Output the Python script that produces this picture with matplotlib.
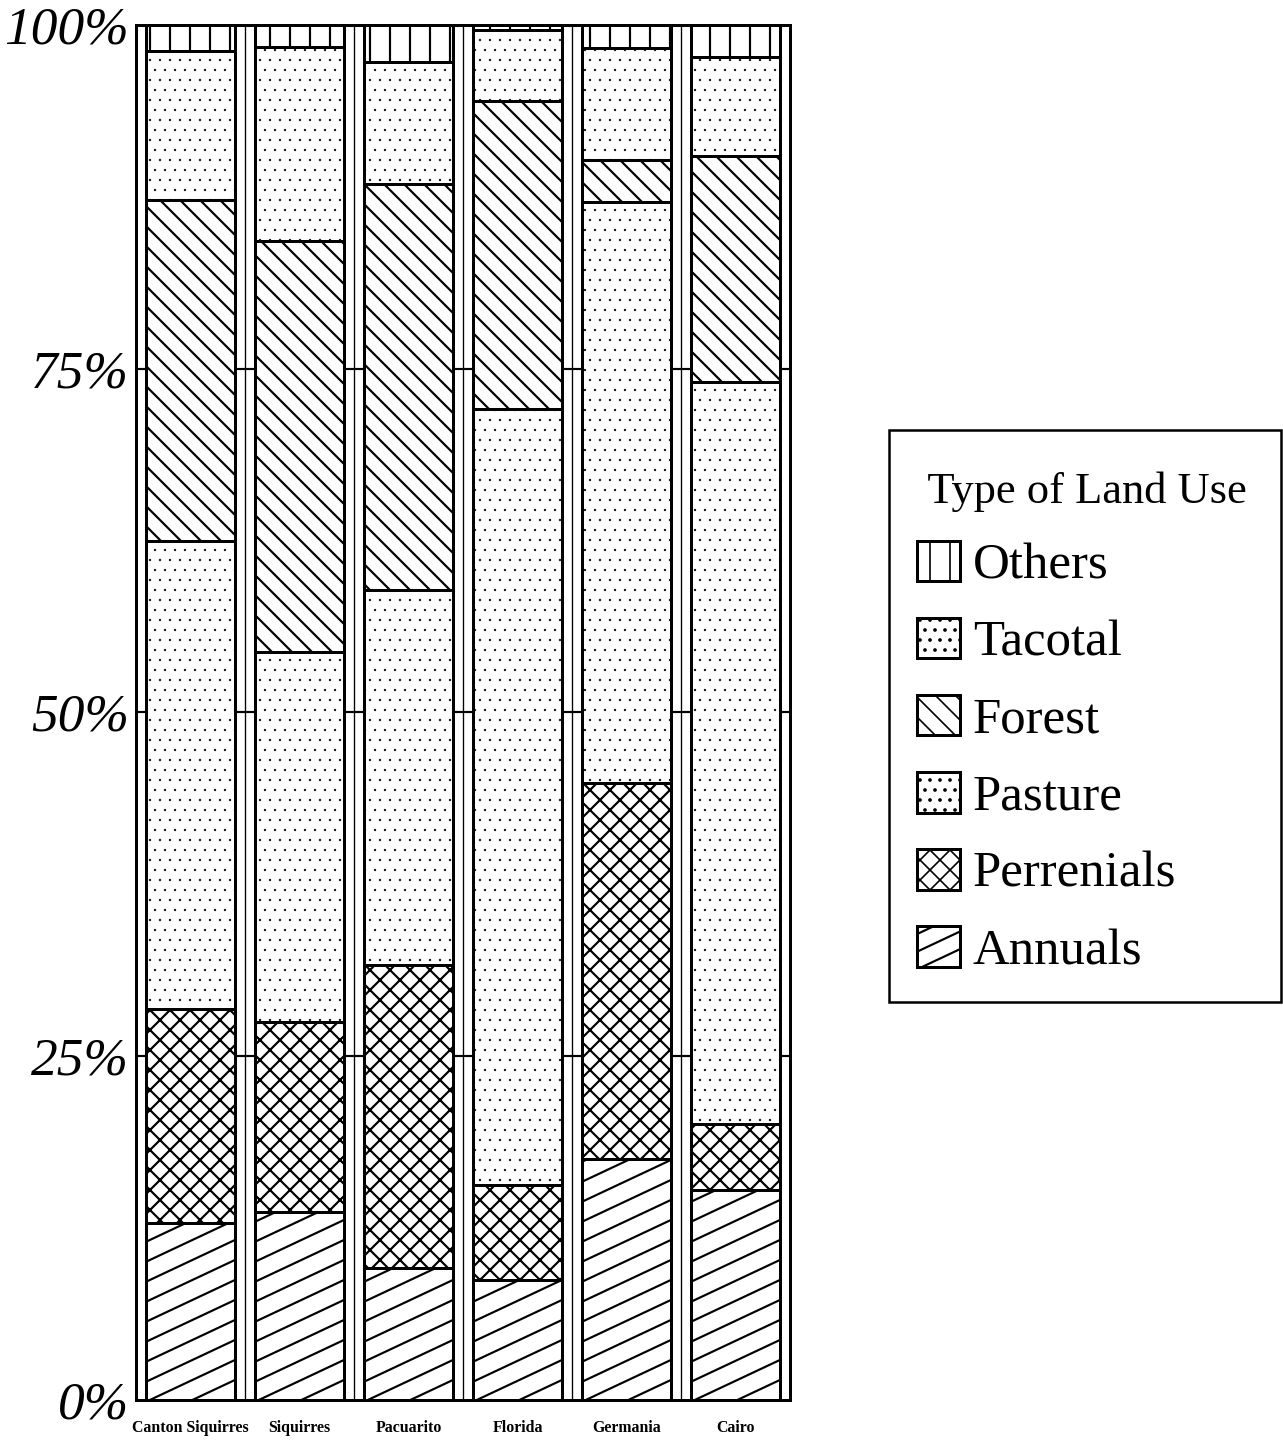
import numpy as np
import matplotlib
matplotlib.use("Agg")
import matplotlib.pyplot as plt
from matplotlib.patches import Rectangle
from matplotlib.lines import Line2D
from matplotlib.legend_handler import HandlerBase

sites = ["Canton Siquirres", "Siquirres", "Pacuarito", "Florida", "Germania", "Cairo"]
annuals = [12.9, 13.7, 9.6, 8.7, 17.5, 15.3]
perennials = [15.5, 13.8, 22.0, 6.9, 27.4, 4.8]
pasture = [34.1, 26.9, 27.3, 56.5, 42.2, 53.9]
forest = [24.8, 29.9, 29.5, 22.4, 3.1, 16.5]
tacotal = [10.8, 14.1, 8.9, 5.1, 8.1, 7.2]
others = [1.9, 1.6, 2.7, 0.4, 1.7, 2.3]
ytick_vals = [0, 25, 50, 75, 100]
ytick_labels = ["0%", "25%", "50%", "75%", "100%"]

plt.rcParams["font.family"] = ["Liberation Serif", "DejaVu Serif"]

DPI = 120
W, H = 1283, 1443
fig = plt.figure(figsize=(W / DPI, H / DPI), dpi=DPI)
ax = fig.add_axes([0.106, 0.0298, 0.5097, 0.9529])

x = np.arange(len(sites))
w = 0.815
layers = [
    ("Annuals", annuals, None),
    ("Perrenials", perennials, "xx"),
    ("Pasture", pasture, ".."),
    ("Forest", forest, "\\\\"),
    ("Tacotal", tacotal, ".."),
    ("Others", others, "|"),
]

bottom = np.zeros(len(sites))
bars = {}
for name, vals, hatch in layers:
    hlw = 0.2 if hatch == ".." else 1.3
    with plt.rc_context({"hatch.linewidth": hlw}):
        bars[name] = ax.bar(x, vals, w, bottom=bottom, color="white",
                            edgecolor="black", linewidth=1.8, hatch=hatch,
                            label=name, zorder=2)
    bottom += np.array(vals)

ax.set_xlim(-0.5, len(sites) - 0.5)
ax.set_ylim(0, 100)

# shallow slanted hatch for annuals (matplotlib only does 45 degrees)
slope_px = 0.47
step_px = 20
fw, fh = fig.get_size_inches() * DPI
pos = ax.get_position()
px_x = pos.width * fw / len(sites)
px_y = pos.height * fh / 100.0
slope = slope_px * px_x / px_y
step = step_px / px_y
for rect in bars["Annuals"]:
    x0 = rect.get_x()
    x1 = x0 + rect.get_width()
    y_lo = rect.get_y()
    y_hi = y_lo + rect.get_height()
    for y0 in np.arange(y_lo - slope * (x1 - x0), y_hi + step, step):
        ln, = ax.plot([x0, x1], [y0, y0 + slope * (x1 - x0)], color="black",
                      lw=1.3, solid_capstyle="butt", zorder=2.5)
        ln.set_clip_path(rect)

# separator strips between the bars, with the tick marks across them
for g in x[:-1] + 0.5:
    ax.axvline(g, color="black", lw=0.8, zorder=1)
gap_left = np.concatenate([[-0.5], x + w / 2])
gap_right = np.concatenate([x - w / 2, [len(sites) - 0.5]])
for yv in ytick_vals[1:-1]:
    ax.hlines(np.full(len(gap_left), yv), gap_left, gap_right,
              colors="black", lw=1.3, zorder=1)

ax.set_yticks(ytick_vals, ytick_labels)
ax.set_xticks(x, sites)
ax.tick_params(axis="both", length=0)
ax.tick_params(axis="y", pad=4, labelsize=32)
ax.tick_params(axis="x", pad=12, labelsize=9.5)
for t in ax.get_yticklabels():
    t.set_fontstyle("italic")
for t in ax.get_xticklabels():
    t.set_fontweight("bold")
for s in ax.spines.values():
    s.set_linewidth(1.8)


class AnnualsHandler(HandlerBase):
    def create_artists(self, legend, orig_handle, xdescent, ydescent,
                       width, height, fontsize, trans):
        box = Rectangle((-xdescent, -ydescent), width, height,
                        facecolor="white", edgecolor="black", lw=1.8,
                        transform=trans)
        arts = [box]
        st = height / 2.3
        for y0 in np.arange(-ydescent - slope_px * width,
                            -ydescent + height + st, st):
            ln = Line2D([-xdescent, -xdescent + width],
                        [y0, y0 + slope_px * width], color="black", lw=1.3,
                        transform=trans)
            ln.set_clip_path(box)
            arts.append(ln)
        return arts


order = ["Others", "Tacotal", "Forest", "Pasture", "Perrenials", "Annuals"]
leg = fig.legend([bars[n].patches[0] for n in order], order,
                 loc="upper left", bbox_to_anchor=(917 / W, 1 - 472 / H),
                 borderaxespad=0, borderpad=0, title=" Type of Land Use",
                 title_fontsize=26.7, fontsize=30.5, handlelength=0.85,
                 handleheight=0.85, handletextpad=0.25, labelspacing=0.555,
                 frameon=False, alignment="left",
                 handler_map={bars["Annuals"].patches[0]: AnnualsHandler()})

# legend box
fig.add_artist(Rectangle((889 / W, 1 - 1002 / H), 392 / W, 572 / H,
                         transform=fig.transFigure, fill=False,
                         edgecolor="black", lw=1.5))

fig.savefig("out.png", dpi=DPI, facecolor="white")
